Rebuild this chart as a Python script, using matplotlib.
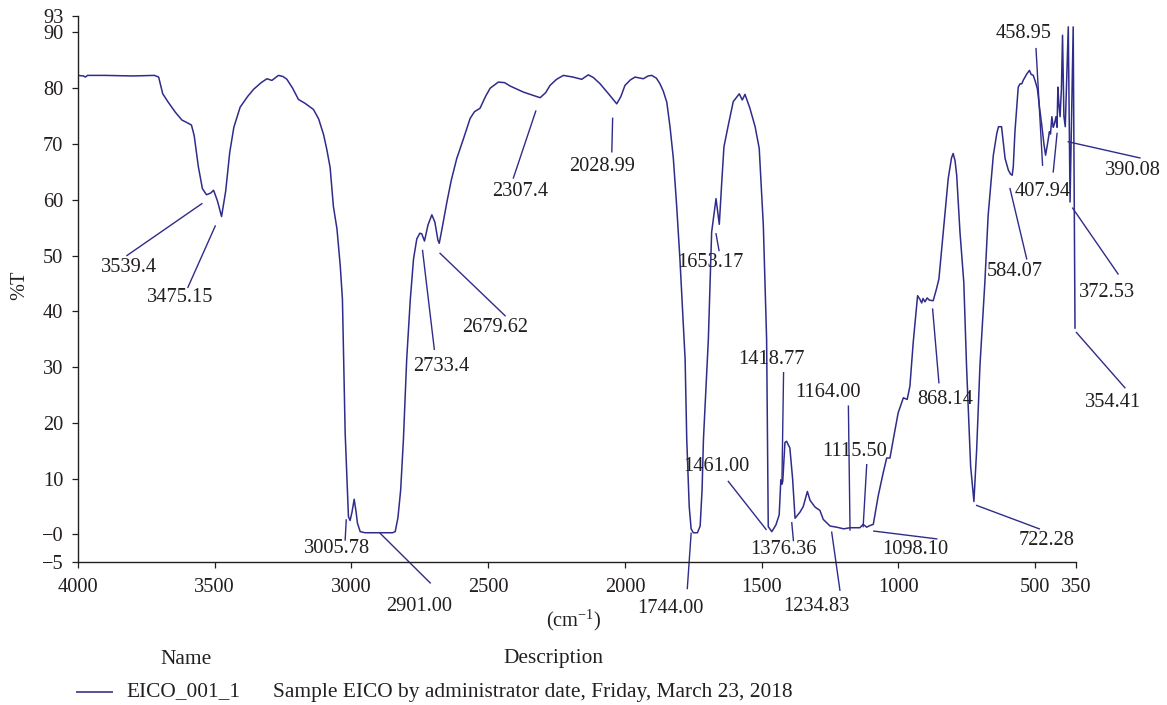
import matplotlib
matplotlib.use("Agg")
import matplotlib.pyplot as plt
from matplotlib.ticker import FixedLocator, FixedFormatter

plt.rcParams['font.family'] = ['Liberation Serif', 'DejaVu Serif']
plt.rcParams['mathtext.fontset'] = 'custom'
plt.rcParams['mathtext.rm'] = 'Liberation Serif'
plt.rcParams['mathtext.it'] = 'Liberation Serif:italic'

# ---- spectrum data (wavenumber cm^-1, %T) ----
wavenumber = [
    4000, 3980, 3973, 3965, 3900, 3800, 3720, 3705, 3690, 3670, 3644, 3620, 3600, 3585,
    3575, 3560, 3545, 3530, 3515, 3504, 3490, 3475, 3460, 3445, 3430, 3407, 3380, 3358,
    3330, 3309, 3291, 3267, 3250, 3236, 3215, 3194, 3170, 3139, 3120, 3102, 3090, 3078,
    3066, 3053, 3041, 3033, 3023, 3011, 3005, 2998, 2990, 2983, 2978, 2968, 2950, 2900,
    2850, 2840, 2830, 2820, 2810, 2798, 2785, 2773, 2761, 2750, 2743, 2733, 2720, 2706,
    2695, 2684, 2679, 2670, 2651, 2635, 2615, 2590, 2566, 2550, 2530, 2510, 2493, 2463,
    2440, 2420, 2371, 2340, 2310, 2290, 2274, 2250, 2225, 2190, 2158, 2134, 2115, 2091,
    2060, 2030, 2015, 2000, 1980, 1963, 1933, 1915, 1902, 1885, 1872, 1860, 1847, 1835,
    1823, 1811, 1799, 1780, 1774, 1765, 1758, 1750, 1735, 1725, 1718, 1713, 1695, 1683,
    1667, 1655, 1646, 1638, 1622, 1604, 1590, 1582, 1571, 1561, 1543, 1524, 1509, 1494,
    1482, 1476, 1463, 1448, 1436, 1430, 1426, 1423, 1415, 1409, 1397, 1387, 1378, 1360,
    1348, 1333, 1323, 1305, 1287, 1275, 1250, 1226, 1200, 1177, 1141, 1129, 1116, 1104,
    1092, 1074, 1056, 1043, 1031, 1019, 1001, 982, 968, 958, 946, 930, 922, 915,
    910, 903, 895, 887, 873, 861, 852, 836, 818, 806, 800, 793, 787, 775,
    761, 751, 736, 724, 714, 702, 684, 672, 653, 640, 634, 623, 616, 610,
    598, 590, 584, 580, 574, 562, 555, 549, 543, 537, 530, 521, 515, 507,
    500, 492, 484, 476, 468, 462, 455, 448, 444, 439, 434, 430, 424, 420,
    417, 413, 409, 404, 400, 395, 390, 379, 372.5, 361, 354.4,
]
transmittance = [
    82.3, 82.2, 82.0, 82.3, 82.3, 82.2, 82.3, 82.0, 79.0, 77.5, 75.7, 74.3, 73.8, 73.4,
    71.5, 66.0, 62.0, 60.9, 61.2, 61.7, 59.8, 57.0, 61.5, 68.5, 73.0, 76.6, 78.5, 79.8,
    81.0, 81.7, 81.4, 82.3, 82.1, 81.6, 80.0, 78.0, 77.3, 76.2, 74.5, 71.7, 69.0, 65.8,
    58.8, 54.8, 48.2, 42.2, 18.2, 3.2, 2.5, 4.0, 6.3, 4.0, 2.0, 0.5, 0.3, 0.3,
    0.3, 0.5, 3.0, 8.0, 17.0, 31.4, 42.0, 49.4, 53.0, 54.0, 53.9, 52.6, 55.5, 57.3,
    56.0, 52.8, 52.2, 54.5, 59.6, 63.5, 67.4, 71.0, 74.6, 75.8, 76.4, 78.5, 80.0, 81.1,
    81.0, 80.4, 79.3, 78.8, 78.3, 79.2, 80.5, 81.6, 82.3, 82.0, 81.6, 82.4, 81.9, 80.8,
    79.0, 77.2, 78.5, 80.5, 81.5, 82.0, 81.7, 82.2, 82.3, 81.8, 80.8, 79.5, 77.5, 73.0,
    67.4, 59.0, 49.4, 31.4, 17.0, 5.0, 1.0, 0.3, 0.3, 1.5, 8.0, 17.0, 35.0, 54.2,
    60.2, 55.6, 63.2, 69.5, 73.4, 77.6, 78.5, 79.0, 77.9, 78.9, 76.4, 73.1, 69.2, 55.4,
    35.0, 1.4, 0.5, 1.7, 3.5, 9.8, 9.0, 9.5, 16.5, 16.7, 15.5, 10.0, 2.9, 4.0,
    5.0, 7.7, 6.1, 4.9, 4.3, 2.7, 1.5, 1.3, 1.0, 1.2, 1.2, 1.8, 1.3, 1.6,
    1.8, 6.9, 11.0, 13.7, 13.7, 17.0, 21.8, 24.5, 24.2, 26.6, 34.4, 42.8, 42.2, 41.5,
    42.3, 41.7, 42.4, 42.0, 41.9, 44.0, 45.8, 54.2, 63.8, 67.5, 68.3, 67.0, 64.4, 54.2,
    45.2, 30.2, 12.2, 5.9, 15.2, 30.2, 45.2, 57.2, 68.0, 72.0, 73.1, 73.1, 70.0, 67.4,
    65.3, 64.6, 64.4, 66.0, 72.2, 80.2, 80.8, 80.8, 81.5, 82.0, 82.6, 83.2, 82.5, 82.3,
    81.3, 79.9, 76.5, 73.4, 70.0, 68.0, 70.0, 72.2, 71.8, 74.9, 73.0, 73.5, 74.9, 73.0,
    80.2, 77.0, 74.9, 80.0, 89.5, 75.0, 73.1, 91.0, 59.6, 91.0, 37.0,
]

# ---- peak labels: text, label position, leader start, leader end (data coords) ----
peak_text = ["3539.4", "3475.15", "3005.78", "2901.00", "2733.4", "2679.62", "2307.4",
             "2028.99", "1744.00", "1653.17", "1461.00", "1418.77", "1376.36", "1234.83",
             "1164.00", "1115.50", "1098.10", "868.14", "722.28", "584.07", "458.95",
             "407.94", "390.08", "372.53", "354.41"]
label_x = [3815, 3626, 3053, 2753, 2672, 2475, 2383, 2085, 1834, 1689, 1664, 1463, 1421, 1299,
           1257, 1159, 940, 830, 458, 574, 544, 471, 143, 239, 215]
label_y = [47.9, 42.4, -2.5, -13.0, 30.1, 37.1, 61.4, 66.0, -13.3, 48.8, 12.2, 31.4, -2.7, -13.0,
           25.5, 14.9, -2.7, 24.2, -1.1, 47.1, 89.8, 61.5, 65.2, 43.4, 23.6]
lead_x0 = [3547, 3498, 3019, 2895, 2740, 2676, 2326, 2045, 1758, 1667, 1622, 1420, 1390, 1244,
           1183, 1116, 1090, 875, 714, 592, 497, 420, 379, 363, 349]
lead_y0 = [59.3, 55.3, 2.6, 0.2, 50.9, 50.4, 75.9, 74.6, 0.2, 53.9, 9.5, 29.0, 2.1, 0.4,
           23.0, 12.5, 0.6, 40.4, 5.2, 62.0, 87.1, 71.9, 70.4, 58.5, 36.2]
lead_x1 = [3821, 3598, 3023, 2712, 2697, 2438, 2408, 2048, 1772, 1656, 1484, 1426, 1384, 1214,
           1177, 1129, 860, 852, 485, 531, 473, 434, 117, 197, 172]
lead_y1 = [50.0, 44.3, -1.0, -8.7, 33.2, 39.2, 63.9, 68.6, -9.7, 50.9, 0.9, 9.3, -1.1, -10.0,
           0.8, 1.4, -0.8, 27.2, 1.0, 49.4, 66.2, 65.0, 67.5, 46.7, 26.3]

x_ticks = [4000, 3500, 3000, 2500, 2000, 1500, 1000, 500, 350]
y_ticks = [-5, 0, 10, 20, 30, 40, 50, 60, 70, 80, 90, 93]
y_tick_labels = ["\u22125", "\u22120", "10", "20", "30", "40", "50", "60", "70", "80", "90", "93"]

sample_name = "EICO_001_1"
sample_desc = "Sample EICO by administrator date, Friday, March 23, 2018"

LINE = "#2f2c8a"
TXT = "#231f20"
FS = 14.7
FS_LEG = 15.4

fig = plt.figure(figsize=(11.67, 7.05), dpi=100)
ax = fig.add_axes([0.0668, 0.2024, 0.8554, 0.7753])

ax.plot(wavenumber, transmittance, color=LINE, lw=1.1, clip_on=True)

for t, lx, ly, x0, y0, x1, y1 in zip(peak_text, label_x, label_y, lead_x0, lead_y0, lead_x1, lead_y1):
    ax.plot([x0, x1], [y0, y1], color=LINE, lw=1.0, clip_on=False)
    ax.text(lx, ly, t, ha="center", va="center", fontsize=FS, color=TXT, clip_on=False)

ax.set_xlim(4000, 350)
ax.set_ylim(-5, 93)
ax.xaxis.set_major_locator(FixedLocator(x_ticks))
ax.xaxis.set_major_formatter(FixedFormatter([str(v) for v in x_ticks]))
ax.yaxis.set_major_locator(FixedLocator(y_ticks))
ax.yaxis.set_major_formatter(FixedFormatter(y_tick_labels))

for s in ["top", "right"]:
    ax.spines[s].set_visible(False)
for s in ["left", "bottom"]:
    ax.spines[s].set_linewidth(1.0)
    ax.spines[s].set_color(TXT)
ax.tick_params(axis="both", direction="out", length=4.5, width=0.9, colors=TXT,
               labelsize=FS, labelcolor=TXT)
ax.tick_params(axis="y", pad=6)
ax.tick_params(axis="x", pad=7)

fig.text(574 / 1167, 1 - 620 / 705, r"(cm$^{-1}$)", ha="center", va="center", fontsize=FS, color=TXT)
fig.text(20 / 1167, 1 - 285 / 705, "%T", rotation=90, ha="center", va="center", fontsize=FS, color=TXT)

# legend block
fig.text(186 / 1167, 1 - 659 / 705, "Name", ha="center", va="center", fontsize=FS_LEG, color=TXT)
fig.text(553 / 1167, 1 - 659 / 705, "Description", ha="center", va="center", fontsize=FS_LEG, color=TXT)
fig.add_artist(plt.Line2D([77 / 1167, 112 / 1167], [1 - 692 / 705, 1 - 692 / 705],
                          color="#5b4f9e", lw=1.4, transform=fig.transFigure))
fig.text(126 / 1167, 1 - 692 / 705, sample_name, ha="left", va="center", fontsize=FS_LEG, color=TXT)
fig.text(273 / 1167, 1 - 692 / 705, sample_desc, ha="left", va="center", fontsize=FS_LEG, color=TXT)

fig.savefig("out.png", dpi=100)
